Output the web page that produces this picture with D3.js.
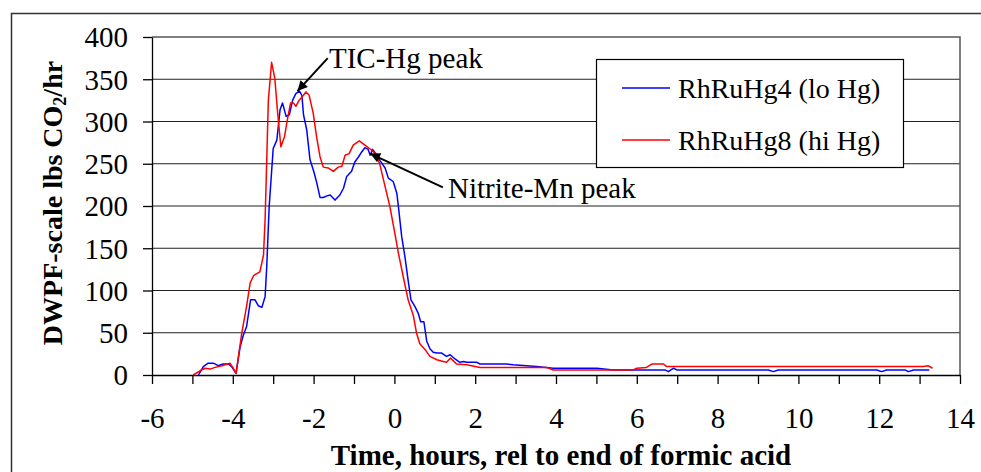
<!DOCTYPE html>
<html>
<head>
<meta charset="utf-8">
<script src="https://cdn.jsdelivr.net/npm/d3@7/dist/d3.min.js"></script>
<style>
  html, body { margin: 0; padding: 0; background: #fff; }
  svg { display: block; }
  svg text { font-family: "Liberation Serif", "DejaVu Serif", serif !important; fill: #000; }
</style>
</head>
<body>
<svg id="chart" width="981" height="472" font-family="Liberation Serif, serif"></svg>
<script>
// ---- data ----
const xTicks = [-6, -4, -2, 0, 2, 4, 6, 8, 10, 12, 14];
const yTicks = [0, 50, 100, 150, 200, 250, 300, 350, 400];
const seriesNames = ["RhRuHg4 (lo Hg)", "RhRuHg8 (hi Hg)"];

const blueTime = [-4.85,-4.73,-4.61,-4.48,-4.36,-4.24,-4.11,-4.03,-3.92,-3.82,-3.74,-3.66,-3.56,-3.45,-3.37,-3.28,-3.20,-3.16,-3.10,-3.00,-2.91,-2.83,-2.77,-2.68,-2.60,-2.52,-2.44,-2.35,-2.29,-2.25,-2.17,-2.09,-1.99,-1.92,-1.84,-1.76,-1.67,-1.59,-1.47,-1.35,-1.26,-1.18,-1.06,-0.98,-0.89,-0.81,-0.73,-0.65,-0.60,-0.54,-0.46,-0.36,-0.23,-0.15,-0.03,0.06,0.10,0.18,0.26,0.34,0.41,0.51,0.59,0.65,0.73,0.80,0.88,0.96,1.05,1.17,1.29,1.38,1.50,1.62,1.71,1.79,2.04,2.12,2.78,2.94,3.52,3.93,5.01,5.42,6.70,6.78,6.91,6.99,9.26,9.38,9.50,11.94,12.06,12.18,12.64,12.72,12.85,13.24];
const blueValue = [0,10,14,14,11,13,13,10,2,33,47,57,89,89,82,80,93,128,199,268,278,314,322,306,308,325,333,336,331,308,290,255,240,227,210,210,212,213,207,213,221,235,241,252,258,264,269,267,260,267,262,254,245,233,229,215,199,164,140,112,89,81,73,63,63,40,31,27,26,26,22,24,19,15,16,15,15,13,13,12,10,8,8,6,6,4,8,6,6,4,6,6,4,6,6,4,6,6];

const redTime = [-4.98,-4.81,-4.69,-4.56,-4.44,-4.27,-4.07,-3.99,-3.92,-3.78,-3.66,-3.57,-3.48,-3.33,-3.24,-3.20,-3.12,-3.04,-2.96,-2.89,-2.81,-2.72,-2.65,-2.57,-2.50,-2.44,-2.36,-2.27,-2.19,-2.11,-2.01,-1.92,-1.84,-1.76,-1.64,-1.51,-1.39,-1.30,-1.22,-1.12,-1.02,-0.87,-0.73,-0.56,-0.44,-0.36,-0.23,-0.11,0.01,0.10,0.22,0.34,0.47,0.55,0.63,0.76,0.88,1.05,1.21,1.29,1.39,1.54,1.79,2.12,3.77,3.93,5.91,6.00,6.24,6.37,6.66,6.74,13.09,13.21,13.32];
const redValue = [0,5,8,7,9,11,14,8,2,49,81,109,118,122,142,185,325,370,351,310,270,282,302,322,322,318,325,330,335,331,310,280,258,246,245,241,246,247,260,262,272,277,272,266,260,249,223,199,168,144,116,89,70,49,37,30,22,18,16,15,20,13,12,9,9,6,6,8,9,13,13,10,10,11,8];

const annotations = [
  { label: "TIC-Hg peak", from: [-1.65, 375], to: [-2.40, 336] },
  { label: "Nitrite-Mn peak", from: [1.20, 222], to: [-0.60, 262] }
];

// ---- layout ----
const FONT = "'Liberation Serif', 'DejaVu Serif', serif";
const svg = d3.select("#chart");
const x = d3.scaleLinear().domain([-6, 14]).range([152, 960]);
const y = d3.scaleLinear().domain([0, 400]).range([375, 37]);

// chart area frame
svg.append("rect").attr("x", 11.5).attr("y", 13.5).attr("width", 1000).attr("height", 500)
  .attr("fill", "#fff").attr("stroke", "#333").attr("stroke-width", 1.5);

// gridlines
svg.append("g").selectAll("line").data(yTicks.filter(d => d > 0 && d < 400)).join("line")
  .attr("x1", x(-6)).attr("x2", x(14))
  .attr("y1", d => y(d)).attr("y2", d => y(d))
  .attr("stroke", "#222").attr("stroke-width", 1.2);

// plot area border (top, right)
svg.append("path")
  .attr("d", `M${x(-6)},${y(400)}H${x(14)}V${y(0)}`)
  .attr("fill", "none").attr("stroke", "#555").attr("stroke-width", 1.5);

// axes
const xAxis = d3.axisBottom(x).tickValues(d3.range(-6, 15, 1)).tickSize(9).tickSizeOuter(0)
  .tickFormat(d => xTicks.includes(d) ? String(d) : "");
const gx = svg.append("g").attr("transform", `translate(0,${y(0)})`).call(xAxis)
  .attr("font-family", FONT).attr("font-size", 28);
gx.selectAll("text").attr("y", 32).attr("dy", "0.71em").style("font-size", "29px")
  .style("font-family", FONT);
gx.selectAll("line, path").attr("stroke", "#000").attr("stroke-width", 1.3);

const yAxis = d3.axisLeft(y).tickValues(yTicks).tickSize(9).tickSizeOuter(0)
  .tickFormat(d => String(d));
const gy = svg.append("g").attr("transform", `translate(${x(-6)},0)`).call(yAxis)
  .attr("font-family", FONT).attr("font-size", 28);
gy.selectAll("text").attr("x", -24).attr("dy", "0.34em").style("font-size", "29px")
  .style("font-family", FONT);
gy.selectAll("line, path").attr("stroke", "#000").attr("stroke-width", 1.3);

// axis titles
svg.append("text").attr("x", 561).attr("y", 465).attr("text-anchor", "middle")
  .style("font-family", FONT).style("font-size", "29px").style("font-weight", "bold")
  .text("Time, hours, rel to end of formic acid");

const yt = svg.append("text").attr("transform", "translate(62,203) rotate(-90)")
  .attr("text-anchor", "middle").style("font-family", FONT)
  .style("font-size", "28px").style("font-weight", "bold");
yt.append("tspan").text("DWPF-scale lbs CO");
yt.append("tspan").attr("dy", 4).style("font-size", "18px").text("2");
yt.append("tspan").attr("dy", -4).text("/hr");

// series
const line = d3.line().x(d => x(d[0])).y(d => y(d[1]));
const blue = blueTime.map((t, i) => [t, blueValue[i]]);
const red = redTime.map((t, i) => [t, redValue[i]]);
svg.append("path").datum(blue).attr("d", line).attr("fill", "none")
  .attr("stroke", "#0000ff").attr("stroke-width", 1.5).attr("stroke-linejoin", "round");
svg.append("path").datum(red).attr("d", line).attr("fill", "none")
  .attr("stroke", "#ff0000").attr("stroke-width", 1.5).attr("stroke-linejoin", "round");

// annotations with arrows
svg.append("defs").append("marker").attr("id", "arrow")
  .attr("viewBox", "0 0 10 10").attr("refX", 10).attr("refY", 5)
  .attr("markerWidth", 14).attr("markerHeight", 10).attr("markerUnits", "userSpaceOnUse")
  .attr("orient", "auto")
  .append("path").attr("d", "M0,0L10,5L0,10z").attr("fill", "#000");

annotations.forEach(a => {
  svg.append("line")
    .attr("x1", x(a.from[0])).attr("y1", y(a.from[1]))
    .attr("x2", x(a.to[0])).attr("y2", y(a.to[1]))
    .attr("stroke", "#000").attr("stroke-width", 2).attr("marker-end", "url(#arrow)");
});
svg.append("text").attr("x", 329).attr("y", 68).style("font-family", FONT)
  .style("font-size", "29px").text(annotations[0].label);
svg.append("text").attr("x", 448).attr("y", 198).style("font-family", FONT)
  .style("font-size", "29px").text(annotations[1].label);

// legend
const lg = svg.append("g");
lg.append("rect").attr("x", 596.5).attr("y", 59.5).attr("width", 307).attr("height", 108)
  .attr("fill", "#fff").attr("stroke", "#000").attr("stroke-width", 1.2);
const colors = ["#0000ff", "#ff0000"];
seriesNames.forEach((n, i) => {
  const cy = 88 + i * 52;
  lg.append("line").attr("x1", 622).attr("x2", 670).attr("y1", cy).attr("y2", cy)
    .attr("stroke", colors[i]).attr("stroke-width", 1.5);
  lg.append("text").attr("x", 678).attr("y", cy + 10).style("font-family", FONT)
    .style("font-size", "28px").text(n);
});
</script>
</body>
</html>
